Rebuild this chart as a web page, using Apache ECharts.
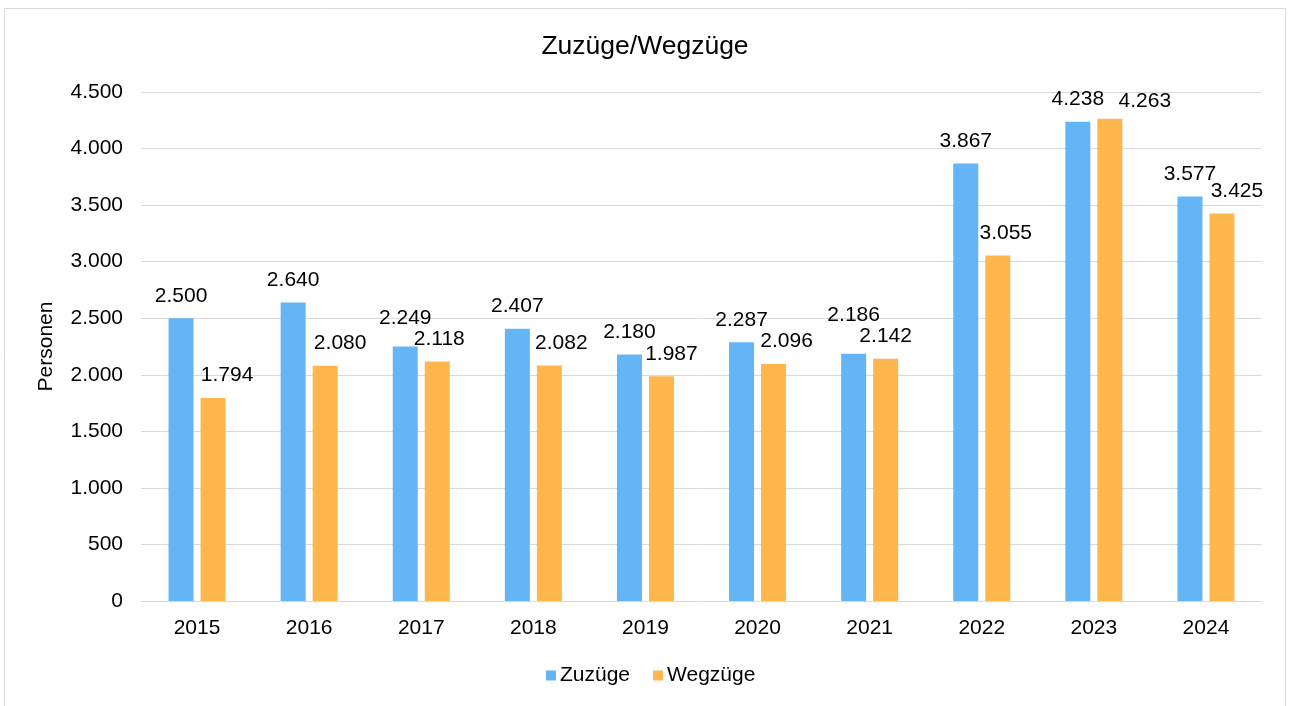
<!DOCTYPE html>
<html>
<head>
<meta charset="utf-8">
<script src="https://cdn.jsdelivr.net/npm/echarts@6/dist/echarts.min.js"></script>
<style>
html,body{margin:0;padding:0;background:#fff;}
#chart{width:1290px;height:706px;}
</style>
</head>
<body>
<div id="chart"></div>
<script>
const years = ['2015','2016','2017','2018','2019','2020','2021','2022','2023','2024'];
const zuzuege = [2500, 2640, 2249, 2407, 2180, 2287, 2186, 3867, 4238, 3577];
const wegzuege = [1794, 2080, 2118, 2082, 1987, 2096, 2142, 3055, 4263, 3425];
const yTicks = { min: 0, max: 4500, step: 500 };

// label nudges [dx, dy] (styling only, mimics the original label placement)
const zuzLabelNudge = [[0,0],[0,0],[0,-6],[0,0],[0,0],[0,0],[0,-16],[0,0],[0,0],[0,0]];
const wegLabelNudge = [[14,0],[15,0],[2,0],[12,0],[10,0],[13,0],[0,0],[8,0],[35,5],[15,0]];

const FONT = 'Liberation Sans, Arial, sans-serif';
const fmt = v => String(v).replace(/\B(?=(\d{3})+(?!\d))/g, '.');

const chart = echarts.init(document.getElementById('chart'));
chart.setOption({
  animation: false,
  textStyle: { fontFamily: FONT },
  graphic: [{
    type: 'rect', shape: { x: 4.5, y: 8.5, width: 1281, height: 720 },
    style: { fill: 'none', stroke: '#d9d9d9', lineWidth: 1 }, silent: true
  }],
  title: {
    text: 'Zuzüge/Wegzüge', left: 'center', top: 28,
    textStyle: { fontFamily: FONT, fontSize: 26.5, fontWeight: 'normal', color: '#000' }
  },
  legend: {
    bottom: 15, left: 541, itemWidth: 10, itemHeight: 10, itemGap: 23,
    icon: 'rect',
    textStyle: { fontFamily: FONT, fontSize: 21, color: '#000', padding: [0, 0, 0, -1] },
    data: ['Zuzüge', 'Wegzüge']
  },
  grid: { left: 141, right: 28, top: 92, bottom: 105 },
  xAxis: {
    type: 'category', data: years,
    axisLine: { lineStyle: { color: '#d9d9d9', width: 1 } },
    axisTick: { show: false },
    axisLabel: { fontFamily: FONT, fontSize: 21, color: '#000', margin: 17 }
  },
  yAxis: {
    type: 'value', min: yTicks.min, max: yTicks.max, interval: yTicks.step,
    name: 'Personen', nameLocation: 'middle', nameGap: 84, nameRotate: 90,
    nameTextStyle: { fontFamily: FONT, fontSize: 21, color: '#000' },
    axisLine: { show: false }, axisTick: { show: false },
    splitLine: { lineStyle: { color: '#d9d9d9', width: 1 } },
    axisLabel: { fontFamily: FONT, fontSize: 21, color: '#000', margin: 18, formatter: fmt }
  },
  series: [
    {
      name: 'Zuzüge', type: 'bar', barWidth: 25, barGap: '28%',
      data: zuzuege.map((v, i) => ({ value: v, label: { offset: zuzLabelNudge[i] } })),
      itemStyle: { color: '#64B5F6' },
      label: { show: true, position: 'top', distance: 12, fontFamily: FONT, fontSize: 21, color: '#000', formatter: p => fmt(p.value) }
    },
    {
      name: 'Wegzüge', type: 'bar', barWidth: 25,
      data: wegzuege.map((v, i) => ({ value: v, label: { offset: wegLabelNudge[i] } })),
      itemStyle: { color: '#FFB74D' },
      label: { show: true, position: 'top', distance: 12, fontFamily: FONT, fontSize: 21, color: '#000', formatter: p => fmt(p.value) }
    }
  ]
});
</script>
</body>
</html>
